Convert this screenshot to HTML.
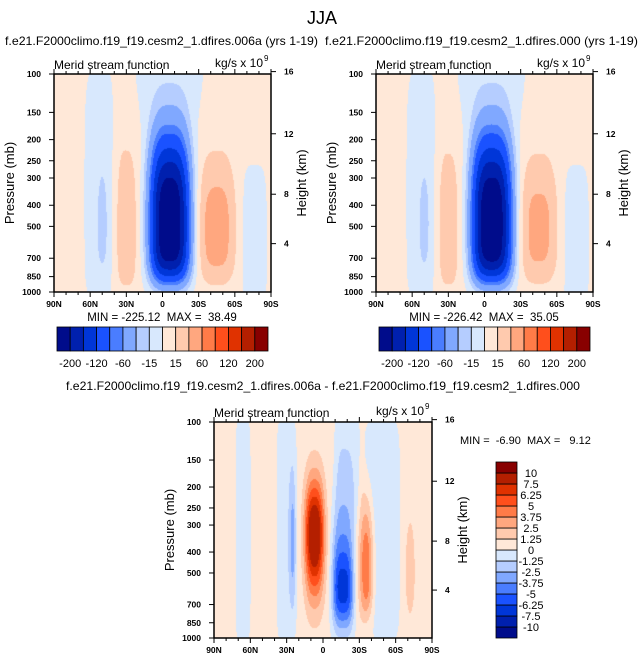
<!DOCTYPE html>
<html><head><meta charset="utf-8">
<style>
body{margin:0;background:#fff;width:643px;height:663px;overflow:hidden;position:relative;font-family:"Liberation Sans",Arial,sans-serif;}
canvas{position:absolute;}
svg{position:absolute;left:0;top:0;}
text{white-space:pre;}
</style></head>
<body>
<canvas id="c1" width="217" height="218" style="left:54px;top:74px"></canvas>
<canvas id="c2" width="217" height="218" style="left:376px;top:74px"></canvas>
<canvas id="c3" width="218" height="216" style="left:214px;top:422px"></canvas>
<svg id="ov" width="643" height="663"></svg>
<script>
// ---- data ----
const levelsMain=[-200,-160,-120,-80,-60,-30,-15,0,15,30,60,80,120,160,200];
const levelLabelsMain=["-200","-120","-60","-15","15","60","120","200"];
const levelsDiff=[-10,-7.5,-6.25,-5,-3.75,-2.5,-1.25,0,1.25,2.5,3.75,5,6.25,7.5,10];
const levelLabelsDiff=["-10","-7.5","-6.25","-5","-3.75","-2.5","-1.25","0","1.25","2.5","3.75","5","6.25","7.5","10"];
const palette=["#000c8b","#0020ae","#0036d8","#1a52ff","#4a7dff","#80a8ff","#b5cdff","#d8e8fd","#ffe8d8","#ffcaae","#ffa77f","#ff7b48","#ff4f1c","#e03200","#b41f00","#880000"];
const pressureTicks=[100,150,200,250,300,400,500,700,850,1000];
const heightTicks=[16,12,8,4];
const heightTickP=[97.5,188,356,600];
const latTicks=[90,60,30,0,-30,-60,-90];
const latLabels=["90N","60N","30N","0","30S","60S","90S"];
// field blobs, control run 006a
const b1Lat=[-6,-45,30,50,52,-5,-76];
const b1LogP=[2.67,2.68,2.68,2.68,2.55,2.0,2.75];
const b1Amp=[-245,34,20,-22,-10,-12,-9];
const b1SLat=[16,15.4,10,4,13,28,11];
const b1PLat=[2.9,3,3,2,4,4,4];
const b1SUp=[0.38,0.31,0.43,0.22,0.6,0.3,0.35];
const b1PUp=[2.5,2,2,2,4,2,4];
const b1SDn=[0.28,0.28,0.33,0.2,0.5,0.25,0.35];
const b1PDn=[4.35,3.9,4,3,6,2,6];
const b1Bg=4;
// field blobs, run 000
const b2Amp=[-246,31,19,-21,-10,-12,-9];
// difference field blobs
const b3Lat=[7,-16.5,-36,25,-72,66,30,-20,-48];
const b3LogP=[2.52,2.76,2.65,2.55,2.7,2.5,2.5,2.2,2.5];
const b3Amp=[9.5,-7.5,5.5,-2.5,2,-1.4,-1.4,-1.4,-1.4];
const b3SLat=[8,8.8,5.8,2.5,4,6,8,10,15];
const b3PLat=[2.5,3.2,2,2,2,6,6,6,6];
const b3SUp=[0.25,0.3,0.3,0.25,0.25,0.5,0.5,0.3,0.5];
const b3PUp=[2,1.6,1.9,2,2,6,6,3,6];
const b3SDn=[0.28,0.2,0.26,0.25,0.2,0.5,0.5,0.3,0.5];
const b3PDn=[2,2.3,3.3,2,2,6,6,3,6];
const b3Bg=0.4;

function hexRgb(h){return [parseInt(h.slice(1,3),16),parseInt(h.slice(3,5),16),parseInt(h.slice(5,7),16)];}
const palRgb=palette.map(hexRgb);
function fieldVal(lat,lp,bg,L,P,A,SL,PL,SU,PU,SD,PD){
  let v=bg;
  for(let i=0;i<L.length;i++){
    const dl=Math.abs(lat-L[i])/SL[i];
    const d=lp-P[i];
    const e=d<0?Math.pow(-d/SU[i],PU[i]):Math.pow(d/SD[i],PD[i]);
    v+=A[i]*Math.exp(-Math.pow(dl,PL[i])-e);
  }
  return v;
}
function drawField(id,levels,bg,L,P,A,SL,PL,SU,PU,SD,PD){
  const c=document.getElementById(id),ctx=c.getContext('2d');
  const w=c.width,h=c.height,img=ctx.createImageData(w,h);
  for(let y=0;y<h;y++){
    const lp=2+(y+0.5)/h;
    for(let x=0;x<w;x++){
      const lat=90-(x+0.5)/w*180;
      const v=fieldVal(lat,lp,bg,L,P,A,SL,PL,SU,PU,SD,PD);
      let k=0;while(k<levels.length&&v>=levels[k])k++;
      const col=palRgb[k],o=(y*w+x)*4;
      img.data[o]=col[0];img.data[o+1]=col[1];img.data[o+2]=col[2];img.data[o+3]=255;
    }
  }
  ctx.putImageData(img,0,0);
}
drawField('c1',levelsMain,b1Bg,b1Lat,b1LogP,b1Amp,b1SLat,b1PLat,b1SUp,b1PUp,b1SDn,b1PDn);
drawField('c2',levelsMain,b1Bg,b1Lat,b1LogP,b2Amp,b1SLat,b1PLat,b1SUp,b1PUp,b1SDn,b1PDn);
drawField('c3',levelsDiff,b3Bg,b3Lat,b3LogP,b3Amp,b3SLat,b3PLat,b3SUp,b3PUp,b3SDn,b3PDn);

const NS='http://www.w3.org/2000/svg',ov=document.getElementById('ov');
function el(tag,attrs,parent){const e=document.createElementNS(NS,tag);for(const k in attrs)e.setAttribute(k,attrs[k]);(parent||ov).appendChild(e);return e;}
function txt(s,x,y,size,anchor,parent,extra){const t=el('text',Object.assign({x:x,y:y,'font-size':size,'text-anchor':anchor||'start',fill:'#000'},extra||{}),parent);t.textContent=s;return t;}

function axes(x0,y0,w,h,name){
  const g=el('g',{});
  
  
  const yOf=p=>y0+(Math.log10(p)-2)*h;
  const xOf=lat=>x0+(90-lat)/180*w;
  el('rect',{x:x0,y:y0,width:w,height:h,fill:'none',stroke:'#000','stroke-width':1.5},g);
  const yl=el('g',{},g);
  
  
  pressureTicks.forEach(p=>{const y=yOf(p);el('line',{x1:x0-5,x2:x0,y1:y,y2:y,stroke:'#000','stroke-width':1},yl);txt(String(p),x0-13,y+3,8.5,'end',yl,{'font-weight':'bold'});});
  const hl=el('g',{},g);
  
  
  heightTicks.forEach((t,i)=>{const y=yOf(heightTickP[i]);el('line',{x1:x0+w,x2:x0+w+5,y1:y,y2:y,stroke:'#000','stroke-width':1},hl);txt(String(t),x0+w+13,y+3,8.5,'start',hl,{'font-weight':'bold'});});
  const xl=el('g',{},g);
  
  
  for(let lat=90;lat>=-90;lat-=10){const x=xOf(lat);const major=lat%30===0;
    el('line',{x1:x,x2:x,y1:y0+h,y2:y0+h+(major?5:3),stroke:'#000','stroke-width':1},xl);
    el('line',{x1:x,x2:x,y1:y0,y2:y0-(major?5:3),stroke:'#000','stroke-width':1},xl);}
  latTicks.forEach((lat,i)=>txt(latLabels[i],xOf(lat),y0+h+15,8.5,'middle',xl,{'font-weight':'bold'}));
  txt('Merid stream function',x0,y0-5,12,'start',g);
  txt('kg/s x 10',x0+w-8,y0-7,12,'end',g);
  txt('9',x0+w-7,y0-13,8,'start',g);
  txt('Pressure (mb)',0,0,13,'middle',g,{transform:`translate(${x0-40},${y0+h/2}) rotate(-90)`});
  txt('Height (km)',0,0,13,'middle',g,{transform:`translate(${x0+w+35},${y0+h/2}) rotate(-90)`});
  return g;
}
axes(54,74,217,218,'panel-006a');
axes(376,74,217,218,'panel-000');
axes(214,422,218,216,'panel-diff');

const t0=txt('JJA',322,24,18,'middle');
const t1=txt('f.e21.F2000climo.f19_f19.cesm2_1.dfires.006a (yrs 1-19)',5,45,12,'start',null,{textLength:313,lengthAdjust:'spacingAndGlyphs'});
const t2=txt('f.e21.F2000climo.f19_f19.cesm2_1.dfires.000 (yrs 1-19)',325,45,12,'start',null,{textLength:313,lengthAdjust:'spacingAndGlyphs'});
const t3=txt('f.e21.F2000climo.f19_f19.cesm2_1.dfires.006a - f.e21.F2000climo.f19_f19.cesm2_1.dfires.000',323,390,12,'middle',null,{textLength:514,lengthAdjust:'spacingAndGlyphs'});
const m1=txt('MIN = -225.12  MAX =  38.49',162,321,11.5,'middle');
const m2=txt('MIN = -226.42  MAX =  35.05',484,321,11.5,'middle');
const m3=txt('MIN =  -6.90  MAX =   9.12',460,444,11,'start');

function hbar(x0,y0,w,h,name){
  const g=el('g',{});
  
  
  const bw=w/palette.length;
  palette.forEach((c,i)=>el('rect',{x:x0+i*bw,y:y0,width:bw,height:h,fill:c,stroke:'#000','stroke-width':0.8},g));
  levelLabelsMain.forEach((s,i)=>txt(s,x0+(2*i+1)*bw,y0+h+16,11,'middle',g));
}
hbar(57,327,211,24,'colorbar-006a');
hbar(379,327,211,24,'colorbar-000');
(function(){
  const g=el('g',{});
  
  
  const x0=496,y0=462,w=21,h=176,bh=h/palette.length;
  palette.forEach((c,i)=>el('rect',{x:x0,y:y0+h-(i+1)*bh,width:w,height:bh,fill:c,stroke:'#000','stroke-width':0.8},g));
  levelLabelsDiff.forEach((s,i)=>txt(s,531,y0+h-(i+1)*bh+4,11,'middle',g));
})();
</script>
</body></html>
